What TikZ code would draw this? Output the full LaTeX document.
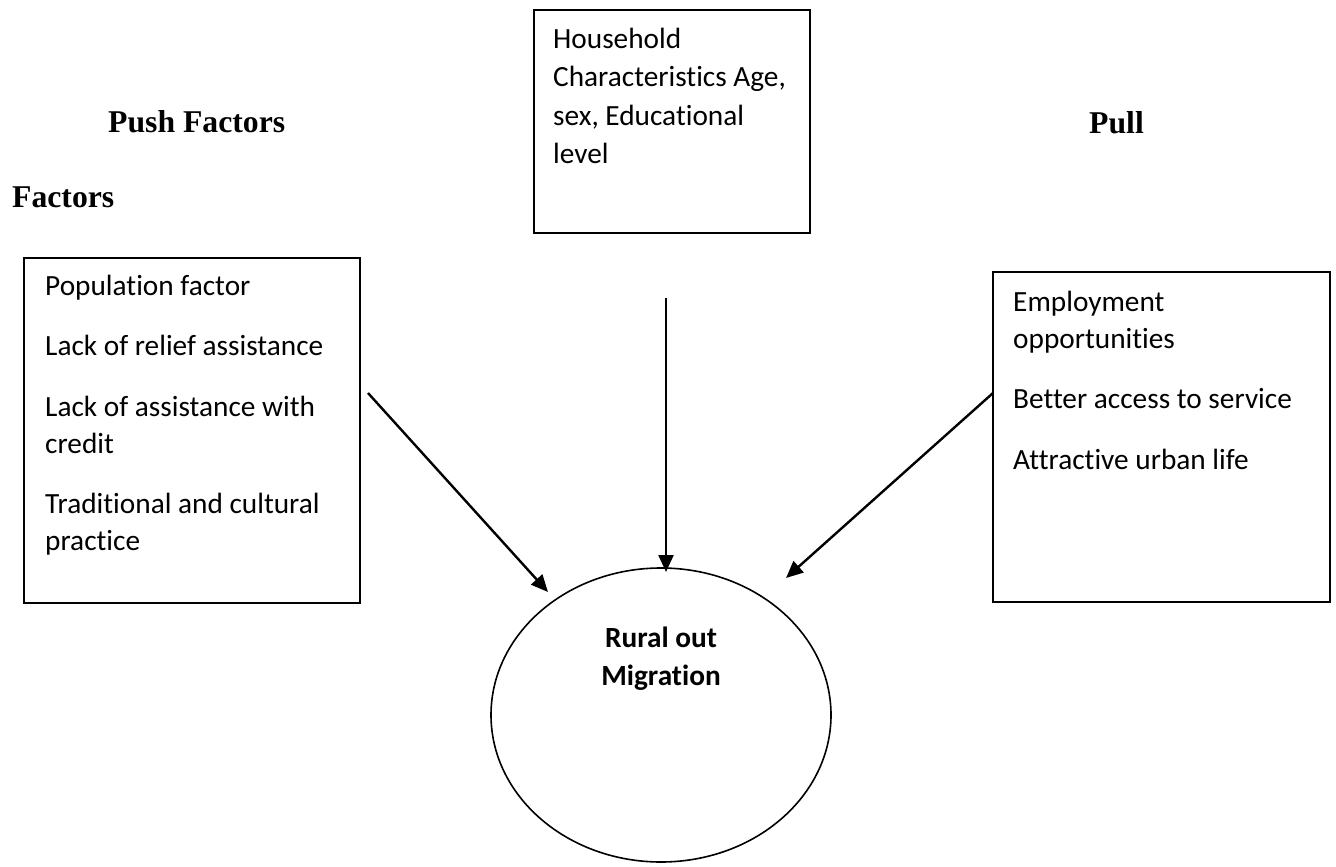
\documentclass[tikz,border=0pt]{standalone}
\usepackage{fontspec}
\setmainfont{Carlito}[Ligatures={NoCommon}]
\newfontfamily\headfont{Liberation Serif}
\usetikzlibrary{shapes.geometric,arrows.meta,calc}
\tikzset{
  box/.style={draw=black, line width=1.8pt, anchor=north west, inner sep=0pt},
  txt/.style={font=\fontsize{29.3}{37}\selectfont, align=left, inner sep=0pt, anchor=north west},
  heading/.style={font=\headfont\bfseries\fontsize{31.7}{38}\selectfont, inner sep=0pt, anchor=base west},
  conn/.style={line width=2.4pt, -{Triangle[length=17pt,width=15pt]}}
}
\begin{document}
\begin{tikzpicture}[x=1pt,y=-1pt]
\useasboundingbox[fill=white] (0,0) rectangle (1336,867);
% headings
\node[heading] (pushh) at (108,132) {Push Factors};
\node[heading] (facth) at (12,207) {Factors};
\node[heading] (pullh) at (1089,133) {Pull};
% boxes
\node[box, minimum width=276pt, minimum height=223pt] (hhbox) at (533,9) {};
\node[txt, font=\fontsize{29.3}{38.5}\selectfont] (hhtxt) at (553,{48-0.7*38.5}) {\strut Household\\Characteristics Age,\\sex, Educational\\level};
\node[box, minimum width=336pt, minimum height=345pt] (pushbox) at (23,257) {};
\node[txt] (pushtxt) at (45,{295-0.7*37}) {\strut Population factor\\[23.5pt]Lack of relief assistance\\[23.5pt]Lack of assistance with\\credit\\[23.5pt]Traditional and cultural\\practice};
\node[box, minimum width=337pt, minimum height=330pt] (pullbox) at (992,271) {};
\node[txt] (pulltxt) at (1013,{311-0.7*37}) {\strut Employment\\opportunities\\[23.5pt]Better access to service\\[23.5pt]Attractive urban life};
% ellipse
\node[draw=black, line width=1.6pt, ellipse, minimum width=340pt, minimum height=294pt, inner sep=0pt] (mig) at (661,715) {};
\node[txt, anchor=north, align=center, font=\bfseries\fontsize{29.3}{38}\selectfont] (migtxt) at (661,{647-0.7*38}) {\strut Rural out\\Migration};
% connectors
\coordinate (pushout) at (368,393);
\coordinate (pushin) at (548,592);
\coordinate (hhout) at (666,298);
\coordinate (hhin) at (666,572);
\coordinate (pullout) at (993,393);
\coordinate (pullin) at (786,578);
\draw[conn] (pushout) -- (pushin);
\draw[conn] (hhout) -- (hhin);
\draw[conn] (pullout) -- (pullin);
\end{tikzpicture}
\end{document}
